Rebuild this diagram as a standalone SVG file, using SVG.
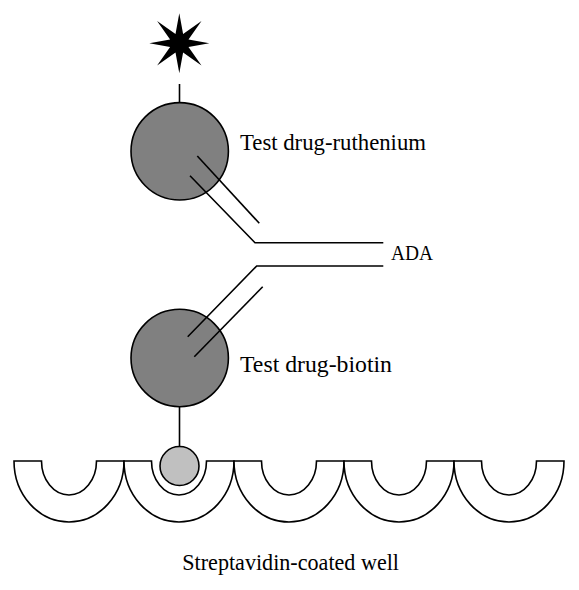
<svg xmlns="http://www.w3.org/2000/svg" width="579" height="590" viewBox="0 0 579 590">
<style>
.ln{fill:none;stroke:#000;stroke-width:1.6}
.big{fill:#808080;stroke:#000;stroke-width:1.6}
.well{fill:#fff;stroke:#000;stroke-width:1.6;stroke-linejoin:miter}
.t{font-family:"Liberation Serif",serif;font-size:23px;fill:#000}
</style>
<rect width="579" height="590" fill="#fff"/>
<g id="wells">
<path class="well" d="M14 461 A55 61 0 0 0 124 461 L96.5 461 A27.5 34 0 0 1 41.5 461 Z"/>
<path class="well" d="M124 461 A55 61 0 0 0 234 461 L206.5 461 A27.5 34 0 0 1 151.5 461 Z"/>
<path class="well" d="M234 461 A55 61 0 0 0 344 461 L316.5 461 A27.5 34 0 0 1 261.5 461 Z"/>
<path class="well" d="M344 461 A55 61 0 0 0 454 461 L426.5 461 A27.5 34 0 0 1 371.5 461 Z"/>
<path class="well" d="M454 461 A55 61 0 0 0 564 461 L536.5 461 A27.5 34 0 0 1 481.5 461 Z"/>
</g>
<g id="connectors">
<line class="ln" x1="179.5" y1="84" x2="179.5" y2="103"/>
<line class="ln" x1="179.5" y1="406" x2="179.5" y2="447"/>
</g>
<g id="star">
<polygon fill="#000" points="179.3,13.3 183.1,34.1 201.5,21.1 188.5,39.5 209.3,43.3 188.5,47.1 201.5,65.5 183.1,52.5 179.3,73.3 175.5,52.5 157.1,65.5 170.1,47.1 149.3,43.3 170.1,39.5 157.1,21.1 175.5,34.1"/>
</g>
<g id="drug-ruthenium">
<circle class="big" cx="179.7" cy="151.3" r="48.7"/>
<text class="t" x="240" y="150" textLength="186" lengthAdjust="spacingAndGlyphs">Test drug-ruthenium</text>
</g>
<g id="drug-biotin">
<circle class="big" cx="179.7" cy="358" r="48.7"/>
<text class="t" x="240" y="372" textLength="152" lengthAdjust="spacingAndGlyphs">Test drug-biotin</text>
</g>
<g id="ada">
<polyline class="ln" points="197.3,156 259.3,223.3"/>
<polyline class="ln" points="190,175.7 255,242.7 383.3,242.7"/>
<polyline class="ln" points="383.3,266 256.7,266 187.7,336.7"/>
<polyline class="ln" points="262.7,286.7 194.3,356.7"/>
<text class="t" x="391" y="260" style="font-size:21px" textLength="42" lengthAdjust="spacingAndGlyphs">ADA</text>
</g>
<g id="biotin">
<circle cx="179.5" cy="466" r="19.5" fill="#c0c0c0" stroke="#000" stroke-width="1.6"/>
</g>
<g id="label">
<text class="t" x="182.3" y="570" textLength="216.7" lengthAdjust="spacingAndGlyphs">Streptavidin-coated well</text>
</g>
</svg>
